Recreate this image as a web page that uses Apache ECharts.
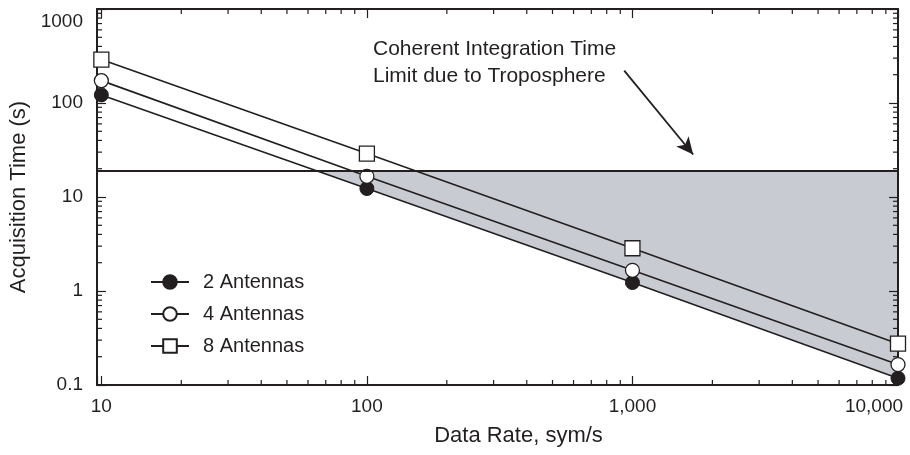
<!DOCTYPE html>
<html>
<head>
<meta charset="utf-8">
<script src="https://cdn.jsdelivr.net/npm/echarts@6/dist/echarts.min.js"></script>
<style>
html, body { margin: 0; padding: 0; background: #fff; }
#chart { width: 910px; height: 455px; }
</style>
</head>
<body>
<div id="chart"></div>
<script>
// data rates (sym/s)
var dataRates = [10, 100, 1000, 10000];
// acquisition time (s) per antenna count
var ant2 = [122, 12.3, 1.23, 0.118];
var ant4 = [173, 16.6, 1.66, 0.165];
var ant8 = [290, 29, 2.85, 0.275];
var seriesNames = ['2 Antennas', '4 Antennas', '8 Antennas'];
// troposphere limit (s)
var tropoLimit = 19;
var xRange = [9.63, 10000];
var yRange = [0.1, 1000];

var ink = '#231f20';
var font = 'Liberation Sans, Arial, sans-serif';

function pairs(xs, ys) {
    return xs.map(function (x, i) { return [x, ys[i]]; });
}
function isPow10(v) {
    var l = Math.log(v) / Math.LN10;
    return Math.abs(l - Math.round(l)) < 1e-6;
}

// where the 2 antenna line crosses the limit (log interpolation)
var lg = function (v) { return Math.log(v) / Math.LN10; };
var t = (lg(ant2[0]) - lg(tropoLimit)) / (lg(ant2[0]) - lg(ant2[1]));
var xCross = Math.pow(10, lg(dataRates[0]) + t * (lg(dataRates[1]) - lg(dataRates[0])));

// minor tick values for log axes
function minorValues(lo, hi) {
    var out = [];
    for (var e = -2; e <= 4; e++) {
        for (var m = 2; m <= 9; m++) {
            var v = m * Math.pow(10, e);
            if (v > lo && v < hi) out.push(v);
        }
    }
    return out;
}

var chart = echarts.init(document.getElementById('chart'));

var axisCommon = {
    type: 'log',
    logBase: 10,
    z: 3,
    axisLine: { lineStyle: { color: ink, width: 2 } },
    axisTick: { inside: true, length: 9, lineStyle: { color: ink, width: 1.2 } },
    splitLine: { show: false },
    minorTick: { show: false }
};

var option = {
    animation: false,
    backgroundColor: '#fff',
    textStyle: { fontFamily: font, color: ink },
    grid: { left: 97, right: 12, top: 9, bottom: 70, containLabel: false, outerBoundsMode: 'none' },
    legend: {
        orient: 'vertical',
        left: 150,
        top: 272,
        padding: 0,
        itemWidth: 38,
        itemHeight: 17,
        itemGap: 12,
        data: seriesNames,
        textStyle: { fontSize: 20, color: ink, fontFamily: font, padding: [0, 0, 0, 9] }
    },
    xAxis: [
        Object.assign({}, axisCommon, {
            min: xRange[0], max: xRange[1],
            name: 'Data Rate, sym/s',
            nameLocation: 'middle',
            nameGap: 40,
            nameTextStyle: { fontSize: 22, color: ink, fontFamily: font, padding: [0, 0, 0, 42] },
            axisLabel: {
                fontSize: 19, color: ink, fontFamily: font, margin: 12,
                showMinLabel: true, showMaxLabel: true,
                formatter: function (v) {
                    if (!isPow10(v)) return '';
                    var s = Math.round(v).toLocaleString('en-US');
                    if (Math.round(v) === 10000) return '{end|' + s + '}';
                    return s;
                },
                rich: {
                    end: { fontSize: 19, color: ink, fontFamily: font, padding: [0, 48, 0, 0] }
                }
            }
        }),
        Object.assign({}, axisCommon, {
            position: 'top',
            min: xRange[0], max: xRange[1],
            axisLabel: { show: false }
        })
    ],
    yAxis: [
        Object.assign({}, axisCommon, {
            min: yRange[0], max: yRange[1],
            name: 'Acquisition Time (s)',
            nameLocation: 'middle',
            nameGap: 64,
            nameTextStyle: { fontSize: 22, color: ink, fontFamily: font },
            axisLabel: {
                fontSize: 19, color: ink, fontFamily: font, margin: 14,
                formatter: function (v) {
                    if (!isPow10(v)) return '';
                    var s = v < 1 ? String(Math.round(v * 10) / 10) : String(Math.round(v));
                    if (Math.round(v) === 1000) return '{top|' + s + '}';
                    return s;
                },
                rich: {
                    top: { fontSize: 19, color: ink, fontFamily: font, padding: [26, 0, 0, 0] }
                }
            }
        }),
        Object.assign({}, axisCommon, {
            position: 'right',
            min: yRange[0], max: yRange[1],
            axisLabel: { show: false }
        })
    ],
    series: [
        {
            // shaded region under the limit, above the 2 antenna line
            type: 'custom',
            z: 1,
            silent: true,
            data: [[100, 1]],
            renderItem: function (params, api) {
                var pts = [[xCross, tropoLimit], [dataRates[3], tropoLimit]];
                for (var i = dataRates.length - 1; i >= 1; i--) {
                    pts.push([dataRates[i], ant2[i]]);
                }
                return {
                    type: 'polygon',
                    shape: { points: pts.map(function (p) { return api.coord(p); }) },
                    style: { fill: '#c8cbd2', stroke: null }
                };
            },
            markLine: {
                silent: true,
                symbol: 'none',
                label: { show: false },
                lineStyle: { color: ink, width: 2, type: 'solid' },
                data: [{ yAxis: tropoLimit }]
            }
        },
        {
            // minor ticks on all four sides
            type: 'custom',
            z: 3,
            silent: true,
            clip: false,
            data: [[100, 1]],
            renderItem: function (params, api) {
                var cs = params.coordSys;
                var kids = [];
                var len = 5;
                var st = { stroke: ink, lineWidth: 1.2 };
                minorValues(xRange[0], xRange[1]).forEach(function (v) {
                    var px = api.coord([v, 1])[0];
                    kids.push({ type: 'line', shape: { x1: px, y1: cs.y + cs.height, x2: px, y2: cs.y + cs.height - len }, style: st });
                    kids.push({ type: 'line', shape: { x1: px, y1: cs.y, x2: px, y2: cs.y + len }, style: st });
                });
                minorValues(yRange[0], yRange[1]).forEach(function (v) {
                    var py = api.coord([100, v])[1];
                    kids.push({ type: 'line', shape: { x1: cs.x, y1: py, x2: cs.x + len, y2: py }, style: st });
                    kids.push({ type: 'line', shape: { x1: cs.x + cs.width, y1: py, x2: cs.x + cs.width - len, y2: py }, style: st });
                });
                return { type: 'group', children: kids };
            }
        },
        {
            name: seriesNames[0],
            type: 'line',
            z: 4,
            data: pairs(dataRates, ant2),
            symbol: 'circle',
            symbolSize: 14,
            lineStyle: { color: ink, width: 1.6 },
            itemStyle: { color: ink, borderColor: ink, borderWidth: 1 }
        },
        {
            name: seriesNames[1],
            type: 'line',
            z: 4,
            data: pairs(dataRates, ant4),
            symbol: 'circle',
            symbolSize: 14,
            lineStyle: { color: ink, width: 1.6 },
            itemStyle: { color: '#fff', borderColor: ink, borderWidth: 1.3 }
        },
        {
            name: seriesNames[2],
            type: 'line',
            z: 4,
            data: pairs(dataRates, ant8),
            symbol: 'rect',
            symbolSize: 15,
            lineStyle: { color: ink, width: 1.6 },
            itemStyle: { color: '#fff', borderColor: ink, borderWidth: 1.3 },
            markLine: {
                silent: true,
                symbol: ['none', 'arrow'],
                symbolSize: [12, 17],
                label: { show: false },
                lineStyle: { color: ink, width: 1.8, type: 'solid' },
                data: [[{ coord: [931, 221] }, { coord: [1693, 28.3] }]]
            }
        }
    ],
    graphic: [
        {
            type: 'text',
            left: 373,
            top: 36,
            style: {
                text: 'Coherent Integration Time\nLimit due to Troposphere',
                font: '21px ' + font,
                fill: ink,
                lineHeight: 27
            }
        }
    ]
};

chart.setOption(option);
</script>
</body>
</html>
